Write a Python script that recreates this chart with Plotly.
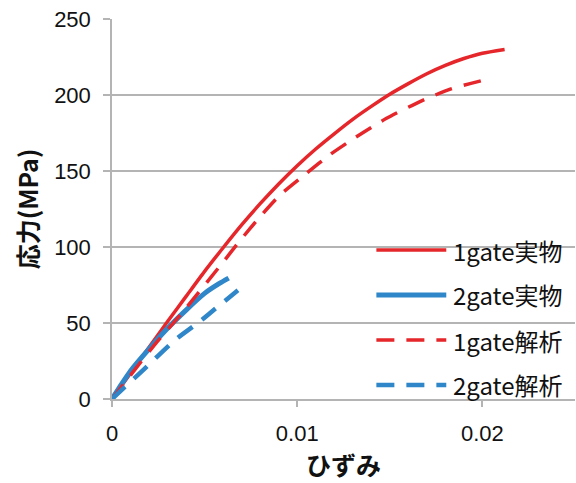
import plotly.graph_objects as go

# Stress-strain data (strain [-], stress [MPa])
g1_real_strain = [0, 0.001, 0.002, 0.003, 0.004, 0.005, 0.006, 0.007, 0.008, 0.009, 0.010,
                  0.011, 0.012, 0.013, 0.014, 0.015, 0.016, 0.017, 0.018, 0.019, 0.020, 0.0212]
g1_real_stress = [0, 17, 34, 51, 67.5, 84, 99.5, 114.5, 128.5, 141.5, 153.5,
                  164.5, 174.5, 184, 192.5, 200.5, 207.5, 214, 219.5, 224, 227.5, 230]

g2_real_strain = [0, 0.0005, 0.001, 0.002, 0.003, 0.004, 0.005, 0.0058, 0.0063]
g2_real_stress = [0, 9.5, 18.5, 33, 46.5, 58.5, 69.5, 76, 79.5]

g1_fea_strain = [0, 0.00115, 0.00232, 0.00377, 0.00593, 0.0069, 0.0080, 0.0091, 0.0105,
                 0.0118, 0.0132, 0.0148, 0.0166, 0.0183, 0.0203]
g1_fea_stress = [0, 18, 36, 56.5, 89, 104, 120, 134.5, 148.5,
                 161, 172.5, 184.5, 195.5, 204, 210.5]

g2_fea_strain = [0, 0.0007, 0.00178, 0.0034, 0.00485, 0.0053, 0.0068]
g2_fea_stress = [0, 8, 20.2, 38.8, 52, 56.6, 71.5]

series_names = ["1gate実物", "2gate実物", "1gate解析", "2gate解析"]
x_tick_vals = [0, 0.01, 0.02]
x_tick_text = ["0", "0.01", "0.02"]
y_tick_vals = [0, 50, 100, 150, 200, 250]

RED = "#E5262A"
BLUE = "#2F86C8"
GRID = "#B4B4B4"
DASH = "18px,12px"

styles = [
    dict(color=RED, width=3.5, dash="solid"),
    dict(color=BLUE, width=5, dash="solid"),
    dict(color=RED, width=3.5, dash=DASH),
    dict(color=BLUE, width=4.5, dash=DASH),
]
data = [
    (g1_real_strain, g1_real_stress),
    (g2_real_strain, g2_real_stress),
    (g1_fea_strain, g1_fea_stress),
    (g2_fea_strain, g2_fea_stress),
]

fig = go.Figure()
# series drawn in order, later ones on top
for name, (xs, ys), st in zip(series_names, data, styles):
    fig.add_trace(go.Scatter(x=xs, y=ys, mode="lines", name=name,
                             line=dict(shape="spline", smoothing=0.6, **st),
                             showlegend=False))

# hand-built legend on the right side of the plot area
legend_x0, legend_x1, text_x = 0.571, 0.722, 0.733
legend_y = [0.392, 0.274, 0.155, 0.037]
shapes = []
annotations = []
for name, st, yy in zip(series_names, styles, legend_y):
    shapes.append(dict(type="line", xref="paper", yref="paper",
                       x0=legend_x0, x1=legend_x1, y0=yy, y1=yy,
                       line=dict(color=st["color"], width=st["width"], dash=st["dash"])))
    annotations.append(dict(text=name, xref="paper", yref="paper", x=text_x, y=yy,
                            xanchor="left", yanchor="middle", showarrow=False,
                            font=dict(family="Noto Sans CJK JP", size=24, color="#111111")))

fig.update_layout(
    width=576, height=483,
    margin=dict(l=112, r=1, t=19, b=84),
    paper_bgcolor="white", plot_bgcolor="white",
    shapes=shapes, annotations=annotations,
    font=dict(family="Liberation Sans, Arial, sans-serif", size=22, color="#111111"),
    xaxis=dict(
        range=[0, 0.025], tickvals=x_tick_vals, ticktext=x_tick_text,
        showgrid=False, zeroline=False,
        showline=True, linecolor=GRID, linewidth=1.5,
        ticks="outside", ticklen=6, tickcolor=GRID, tickwidth=1.5,
        ticklabelstandoff=8,
        tickfont=dict(family="Liberation Sans, Arial, sans-serif", size=22),
        title=dict(text="<b>ひずみ</b>", standoff=12,
                   font=dict(family="Noto Sans CJK JP", size=25)),
    ),
    yaxis=dict(
        range=[0, 250], tickvals=y_tick_vals,
        showgrid=True, gridcolor=GRID, gridwidth=1.5, zeroline=False,
        showline=True, linecolor=GRID, linewidth=1.5,
        ticks="outside", ticklen=7, tickcolor=GRID, tickwidth=1.5,
        ticklabelstandoff=8,
        tickfont=dict(family="Liberation Sans, Arial, sans-serif", size=22),
        title=dict(text="<b>応力(MPa)</b>", standoff=8,
                   font=dict(family="Noto Sans CJK JP", size=25)),
    ),
)

fig.write_html("out.html")
